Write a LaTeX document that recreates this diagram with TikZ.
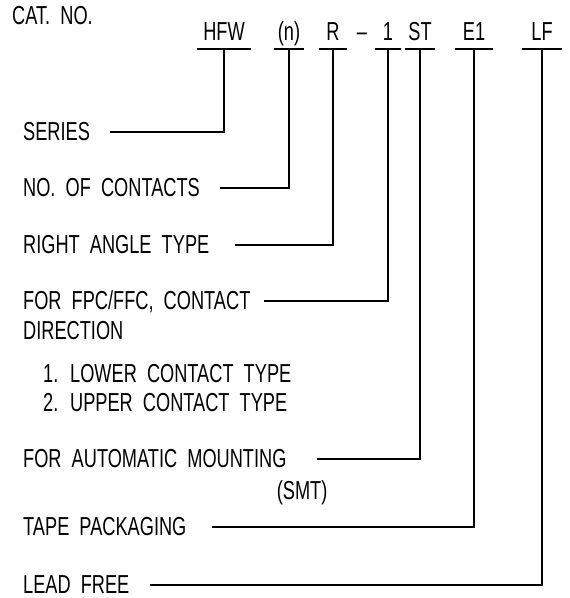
\documentclass[tikz,border=0pt]{standalone}
\usepackage{fontspec}
\setmainfont[FakeStretch=0.7,WordSpace=2]{Liberation Sans}
\usetikzlibrary{positioning}
\usetikzlibrary{calc}

\begin{document}
\begin{tikzpicture}[
            x=1bp, y=-1bp,
            font=\fontsize{26bp}{30bp}\selectfont,
            lbl/.style={anchor=west, inner sep=0pt, text height=17.9bp, text depth=0pt},
            codenode/.style={anchor=south, inner xsep=0pt, inner ysep=8bp, text height=17.9bp, text depth=0pt},
            bar/.style={line width=1.3bp},
            lead/.style={line width=1.3bp, shorten <=20bp},
            ]
            \useasboundingbox (0,0) rectangle (570,598);

            \node[lbl] (catno) at (12,16) {CAT.\ NO.};

            % code letters, each one underlined
            \node[codenode, minimum width=54bp] (hfw) at (224,49) {HFW};
            \node[codenode, minimum width=30bp] (num) at (289,49) {(n)};
            \node[codenode, minimum width=27bp] (ra) at (333,49) {R};
            \node[codenode] (dash) at (362,49) {–};
            \node[codenode, minimum width=25bp] (one) at (388,49) {1};
            \node[codenode, minimum width=30bp] (st) at (420,49) {ST};
            \node[codenode, minimum width=37bp] (eone) at (474,49) {E1};
            \node[codenode, minimum width=39bp] (lf) at (542,49) {LF};

            \foreach \c in {hfw,num,ra,one,st,eone,lf}
                \draw[bar] (\c.south west) -- (\c.south east);

            % explanations
            \node[lbl] (series) at (23,132) {SERIES};
            \node[lbl] (contacts) at (23,188) {NO.\ OF CONTACTS};
            \node[lbl] (rightangle) at (23,245) {RIGHT ANGLE TYPE};
            \node[lbl] (fpc) at (23,301) {FOR FPC/FFC, CONTACT};
            \node[lbl] (direction) at (23,331) {DIRECTION};
            \node[lbl] (lower) at (43,374) {1. LOWER CONTACT TYPE};
            \node[lbl] (upper) at (43,403) {2. UPPER CONTACT TYPE};
            \node[lbl] (auto) at (23,459) {FOR AUTOMATIC MOUNTING};
            \node[below right=12bp and -10bp of auto.south east, inner sep=0pt] (smt) {(SMT)};
            \node[lbl] (tape) at (23,527) {TAPE PACKAGING};
            \node[lbl] (leadfree) at (23,585) {LEAD FREE};

            \draw[lead] (series.east) -- (series.east -| hfw.south) -- (hfw.south);
            \draw[lead] (contacts.east) -- (contacts.east -| num.south) -- (num.south);
            \draw[lead, shorten <=26bp] (rightangle.east) -- (rightangle.east -| ra.south) -- (ra.south);
            \draw[lead, shorten <=13bp] (fpc.east) -- (fpc.east -| one.south) -- (one.south);
            \draw[lead, shorten <=30bp] (auto.east) -- (auto.east -| st.south) -- (st.south);
            \draw[lead, shorten <=25bp] (tape.east) -- (tape.east -| eone.south) -- (eone.south);
            \draw[lead] (leadfree.east) -- (leadfree.east -| lf.south) -- (lf.south);
        \end{tikzpicture}
\end{document}
